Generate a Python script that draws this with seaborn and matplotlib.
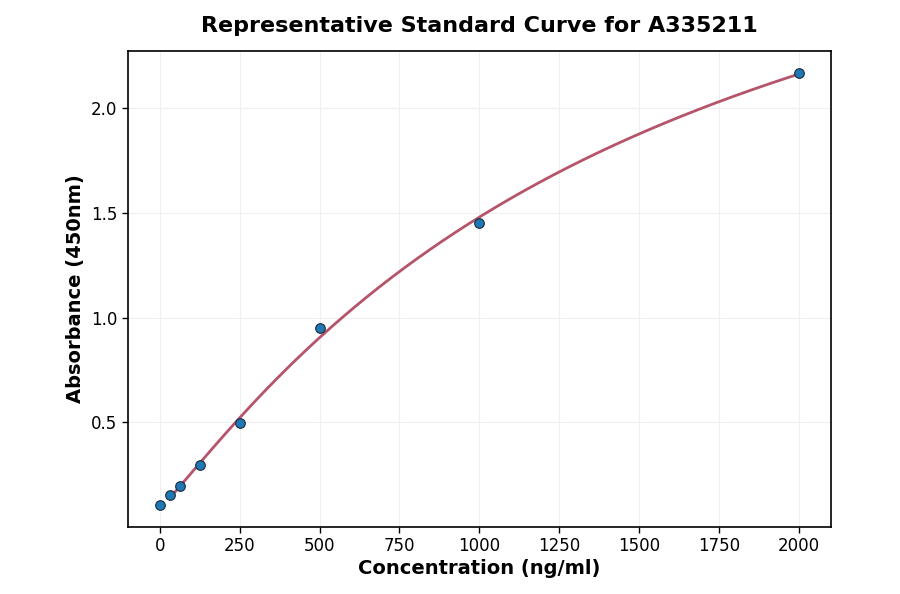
import numpy as np
import pandas as pd
import matplotlib
matplotlib.use("Agg")
import matplotlib.pyplot as plt
import seaborn as sns

concentration = [0, 31.25, 62.5, 125, 250, 500, 1000, 2000]
absorbance = [0.105, 0.152, 0.195, 0.295, 0.495, 0.948, 1.452, 2.167]

title = "Representative Standard Curve for A335211"
xlabel = "Concentration (ng/ml)"
ylabel = "Absorbance (450nm)"

df = pd.DataFrame({"conc": concentration, "abs": absorbance})

# 4PL fit via grid search (linear solve for asymptotes)
x = np.array(concentration[1:], dtype=float)
y = np.array(absorbance[1:], dtype=float)
best = None
for b in np.linspace(0.5, 3.0, 126):
    for c in np.logspace(2, 5, 301):
        g = 1.0 / (1.0 + (x / c) ** b)
        A = np.column_stack([g, 1 - g])
        coef, *_ = np.linalg.lstsq(A, y, rcond=None)
        err = np.sum((A @ coef - y) ** 2)
        if best is None or err < best[0]:
            best = (err, b, c, coef)
_, b, c, (a, d) = best
xf = np.linspace(min(x), max(x), 400)
gf = 1.0 / (1.0 + (xf / c) ** b)
yf = a * gf + d * (1 - gf)
fit = pd.DataFrame({"conc": xf, "abs": yf})

sns.set_theme(style="whitegrid")
plt.rcParams["font.family"] = ["DejaVu Sans"]
plt.rcParams["text.color"] = "black"
plt.rcParams["axes.labelcolor"] = "black"

fig, ax = plt.subplots(figsize=(9, 5.94), dpi=100)
fig.subplots_adjust(left=0.142, right=0.923, top=0.914, bottom=0.113)

sns.lineplot(data=fit, x="conc", y="abs", ax=ax, color="#b5546a", linewidth=2, zorder=2)
sns.scatterplot(data=df, x="conc", y="abs", ax=ax, color="#1f77b4", edgecolor="#1a2a3a",
                linewidth=0.8, s=48, zorder=3)

ax.set_title(title, fontsize=16, fontweight="bold", pad=14, color="black")
ax.set_xlabel(xlabel, fontsize=14, fontweight="bold", color="black", labelpad=3)
ax.set_ylabel(ylabel, fontsize=14, fontweight="bold", color="black")
ax.set_xticks([0, 250, 500, 750, 1000, 1250, 1500, 1750, 2000])
ax.set_yticks([0.5, 1.0, 1.5, 2.0])
ax.tick_params(axis="both", labelsize=12, length=4, width=1, color="black", labelcolor="black", direction="out", bottom=True, left=True)
ax.grid(True, color="#efefef", linewidth=0.8)
for s in ax.spines.values():
    s.set_color("black")
    s.set_linewidth(1.2)
ax.set_facecolor("white")

fig.savefig("out.png", dpi=100, facecolor="white")
